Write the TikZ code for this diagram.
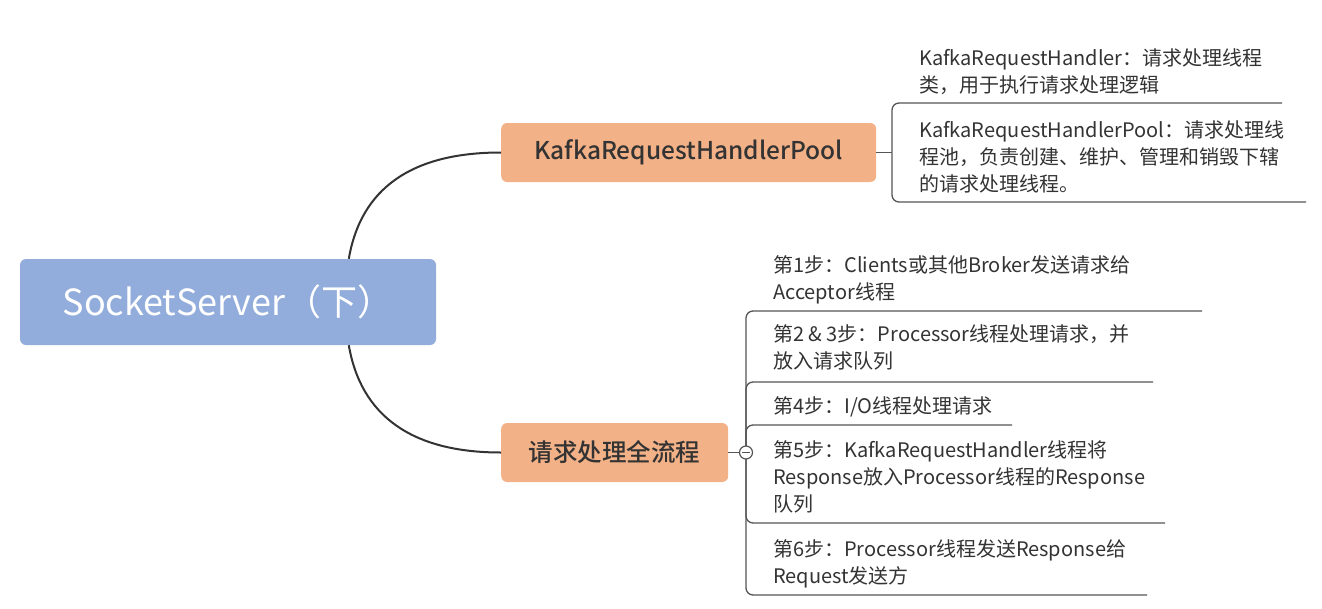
\documentclass[tikz,border=0pt]{standalone}
\usepackage{fontspec}
\setmainfont{Noto Sans CJK SC}
\newfontfamily\mediumfont{Noto Sans CJK SC Medium}
\definecolor{rootblue}{HTML}{92ADDB}
\definecolor{peach}{HTML}{F2B187}
\definecolor{ink}{HTML}{333333}
\definecolor{linegray}{HTML}{555555}
\begin{document}
\begin{tikzpicture}[x=1pt,y=-1pt,
  rootbox/.style={fill=rootblue, rounded corners=6pt, minimum width=416pt, minimum height=86pt,
    text=white, font=\fontsize{36}{40}\selectfont, inner sep=0pt},
  mainbox/.style={fill=peach, rounded corners=6pt, minimum height=59pt, inner sep=0pt,
    text=ink, font=\mediumfont\fontsize{24.5}{28}\selectfont},
  item/.style={anchor=base west, align=left, inner sep=0pt, text=ink,
    font=\fontsize{20}{27}\selectfont},
  curve/.style={draw=ink, line width=2pt},
  twig/.style={draw=linegray, line width=1.3pt, rounded corners=7pt},
  fold/.style={circle, draw=linegray, line width=1.2pt, fill=white, minimum size=13pt, inner sep=0pt}
]
\useasboundingbox (0,0) rectangle (1322,608);

% root
\node[rootbox] (root) at (228,302) {SocketServer（下）};

% main topics
\node[mainbox, anchor=west, minimum width=375pt] (krhp) at (501,152.5) {KafkaRequestHandlerPool};
\node[mainbox, anchor=west, minimum width=227pt] (flow) at (501,452.5) {请求处理全流程};

\draw[curve] ([xshift=329pt]root.north west) .. controls +(12,-70) and +(-90,0) .. (krhp.west);
\draw[curve] ([xshift=329pt]root.south west) .. controls +(12,70) and +(-90,0) .. (flow.west);

% top subtopics (anchor = baseline of last line)
\node[item] (k1) at (919,92.5) {KafkaRequestHandler：请求处理线程\\类，用于执行请求处理逻辑};
\node[item] (k2) at (919,191.5) {KafkaRequestHandlerPool：请求处理线\\程池，负责创建、维护、管理和销毁下辖\\的请求处理线程。};

\coordinate (tj) at (892,152.5);
\coordinate (ku1) at (1282,103);
\coordinate (ku2) at (1306,202);
\draw[twig] (krhp.east) -- (tj);
\draw[twig] (tj) |- (ku1);
\draw[twig] (tj) |- (ku2);

% bottom subtopics
\node[item] (s1) at (773,299.5) {第1步：Clients或其他Broker发送请求给\\Acceptor线程};
\node[item] (s2) at (773,368.5) {第2 \& 3步：Processor线程处理请求，并\\放入请求队列};
\node[item] (s3) at (773,413.5) {第4步：I/O线程处理请求};
\node[item] (s4) at (773,511.5) {第5步：KafkaRequestHandler线程将\\Response放入Processor线程的Response\\队列};
\node[item] (s5) at (773,583.5) {第6步：Processor线程发送Response给\\Request发送方};

\coordinate (bj) at (746,452.5);
\coordinate (su1) at (1202,311);
\coordinate (su2) at (1153,382);
\coordinate (su3) at (1012,425);
\coordinate (su4) at (1165,523);
\coordinate (su5) at (1147,595);
\draw[twig] (flow.east) -- (bj);
\foreach \u in {su1,su2,su3,su4,su5} { \draw[twig] (bj) |- (\u); }
\node[fold] (fd) at (bj) {};
\draw[draw=linegray, line width=1.2pt] ([xshift=-4pt]fd.center) -- ([xshift=4pt]fd.center);
\end{tikzpicture}
\end{document}
